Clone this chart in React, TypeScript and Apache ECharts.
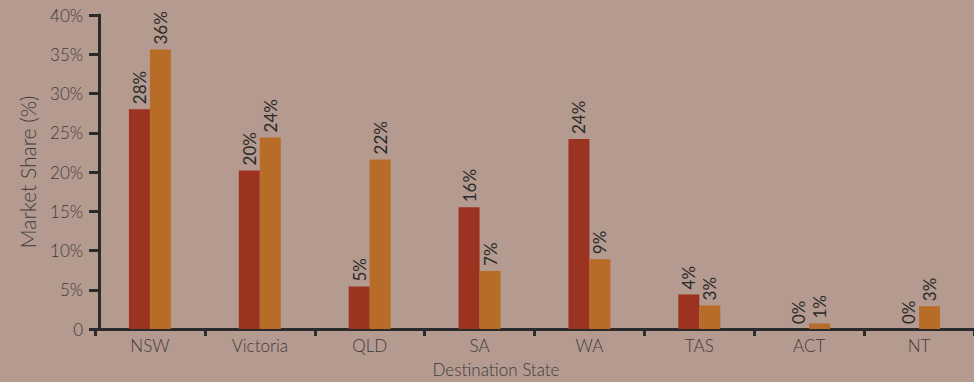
import React, { useEffect, useRef } from "react";
import * as echarts from "echarts";

const categories = ["NSW", "Victoria", "QLD", "SA", "WA", "TAS", "ACT", "NT"];
const seriesA = [28.0, 20.2, 5.4, 15.5, 24.2, 4.4, 0, 0];
const seriesB = [35.6, 24.4, 21.6, 7.4, 8.9, 3.0, 0.7, 2.9];
const yTitle = "Market Share (%)";
const xTitle = "Destination State";

const FONT = "Lato, 'Open Sans', sans-serif";

export default function App() {
  const ref = useRef<HTMLDivElement>(null);
  useEffect(() => {
    if (!ref.current) return;
    const chart = echarts.init(ref.current, undefined, { renderer: "svg" });
    const label = {
      show: true,
      position: "top",
      rotate: 90,
      align: "left",
      verticalAlign: "middle",
      distance: 5,
      color: "#2a2a2a",
      fontSize: 17,
      fontFamily: FONT,
      formatter: (p: any) => Math.round(p.value) + "%",
    };
    chart.setOption({
      animation: false,
      backgroundColor: "#b59a8f",
      textStyle: { fontFamily: FONT },
      grid: { left: 95, right: 0, top: 15, bottom: 53 },
      xAxis: {
        type: "category",
        data: categories,
        axisLine: { lineStyle: { color: "#2b2b2b", width: 3 } },
        axisTick: { show: true, length: 7, lineStyle: { color: "#2b2b2b", width: 3 } },
        axisLabel: { color: "#3c3c3c", fontSize: 17, fontWeight: 300, margin: 8, fontFamily: FONT },
      },
      yAxis: {
        type: "value",
        min: 0,
        max: 40,
        interval: 5,
        offset: -4,
        name: yTitle,
        nameLocation: "middle",
        nameGap: 61,
        nameTextStyle: { color: "#3c3c3c", fontSize: 21, fontWeight: 300, fontFamily: FONT },
        splitLine: { show: false },
        axisLine: { show: true, lineStyle: { color: "#2b2b2b", width: 3 } },
        axisTick: { show: true, length: 10, lineStyle: { color: "#2b2b2b", width: 3 } },
        axisLabel: {
          color: "#3c3c3c",
          fontSize: 17,
          fontWeight: 300,
          margin: 16,
          fontFamily: FONT,
          formatter: (v: number) => (v === 0 ? "0" : v + "%"),
        },
      },
      graphic: [
        {
          type: "text",
          x: 496,
          y: 369,
          style: {
            text: xTitle,
            fill: "#3c3c3c",
            fontSize: 17,
            fontWeight: 300,
            fontFamily: FONT,
            align: "center",
            verticalAlign: "middle",
          },
        },
      ],
      series: [
        {
          type: "bar",
          data: seriesA,
          barWidth: 21,
          barGap: "0%",
          itemStyle: { color: "#9c3320" },
          label,
        },
        {
          type: "bar",
          data: seriesB,
          barWidth: 21,
          barGap: "0%",
          itemStyle: { color: "#b76d27" },
          label,
        },
      ],
    });
    return () => chart.dispose();
  }, []);
  return (
    <div
      ref={ref}
      style={{ position: "absolute", left: 0, top: 0, width: 974, height: 382 }}
    />
  );
}
